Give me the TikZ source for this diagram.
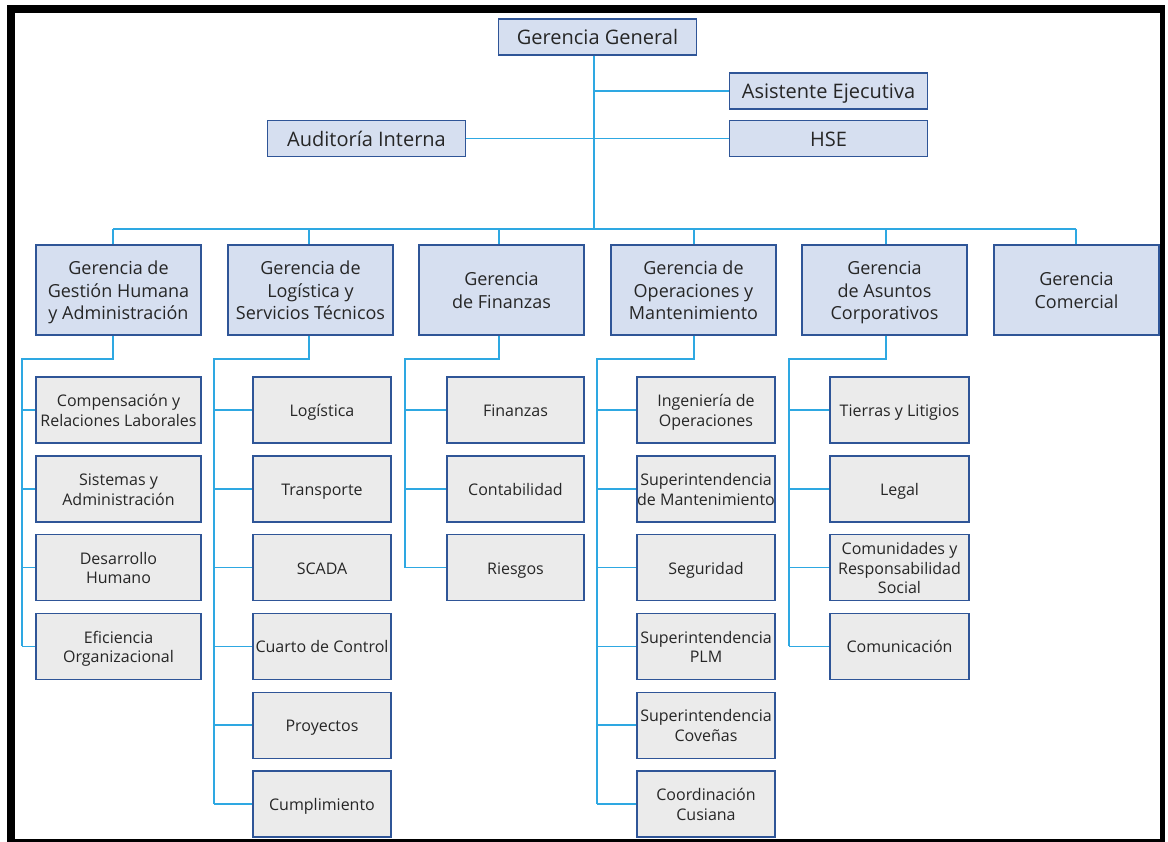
\documentclass[tikz,border=0pt]{standalone}
\usepackage{fontspec}
\setmainfont{Open Sans}
\definecolor{link}{RGB}{46,168,226}
\definecolor{edge}{RGB}{47,85,151}
\definecolor{headfill}{RGB}{214,223,240}
\definecolor{unitfill}{RGB}{235,235,235}
\definecolor{ink}{RGB}{38,38,38}
% one text line whose box is exactly cap-high, so every label sits by its capitals
\newcommand\capl[1]{\raisebox{0pt}[\dimexpr0.714em+1.5pt\relax][0pt]{#1}}
\tikzset{
  box/.style={draw=edge, line width=1.4pt, text=ink, inner sep=0pt, align=center},
  head/.style={box, fill=headfill, minimum width=198pt, minimum height=36pt,
    font=\fontsize{20}{24}\selectfont},
  dept/.style={box, fill=headfill, minimum width=165pt, minimum height=90pt,
    font=\fontsize{18}{22.5}\selectfont},
  unit/.style={box, fill=unitfill, minimum height=66pt,
    font=\fontsize{16}{19.5}\selectfont},
  link/.style={draw=link, line width=1.5pt, line join=miter}
}
\begin{document}
\begin{tikzpicture}[x=1pt,y=-1pt]
\useasboundingbox (0,0) rectangle (1168,842);
% page frame
\fill[white] (0,0) rectangle (1168,842);
\fill[black] (7,5) rectangle (1165,842);
\fill[white] (15,13) rectangle (1160,839);

% top level
\node[head] (gg)  at (597.5,37)    {\capl{Gerencia General}};
\node[head] (ae)  at (828.5,91)    {\capl{Asistente Ejecutiva}};
\node[head] (hse) at (828.5,138.5) {\capl{HSE}};
\node[head] (ai)  at (366.5,138.5) {\capl{Auditoría Interna}};

\coordinate (bus) at (594,229);
\draw[link] (gg.south -| bus) -- (bus);
\draw[link] (bus |- ae.west) -- (ae.west);
\draw[link] (ai.east) -- (hse.west);

% departments
\node[dept] (d1) at (118.5,290)  {\capl{Gerencia de}\\\capl{Gestión Humana}\\\capl{y Administración}};
\node[dept] (d2) at (310.5,290)  {\capl{Gerencia de}\\\capl{Logística y}\\\capl{Servicios Técnicos}};
\node[dept] (d3) at (501.5,290)  {\capl{Gerencia}\\\capl{de Finanzas}};
\node[dept] (d4) at (693.5,290)  {\capl{Gerencia de}\\\capl{Operaciones y}\\\capl{Mantenimiento}};
\node[dept] (d5) at (884.5,290)  {\capl{Gerencia}\\\capl{de Asuntos}\\\capl{Corporativos}};
\node[dept] (d6) at (1076.5,290) {\capl{Gerencia}\\\capl{Comercial}};

\coordinate (t1) at (113,229);
\coordinate (t2) at (309,229);
\coordinate (t3) at (499,229);
\coordinate (t4) at (694,229);
\coordinate (t5) at (886,229);
\coordinate (t6) at (1076,229);
\draw[link] (t1) -- (t6);
\foreach \i in {1,...,6} \draw[link] (t\i) -- (t\i |- d\i.north);

% units
\foreach \t [count=\k] in {{\capl{Compensación y}\\\capl{Relaciones Laborales}},
  {\capl{Sistemas y}\\\capl{Administración}},
  {\capl{Desarrollo}\\\capl{Humano}},{\capl{Eficiencia}\\\capl{Organizacional}}}
  \node[unit, minimum width=165pt] (c1-\k) at (118.5,{410+(\k-1)*78.8}) {\t};
\foreach \t [count=\k] in {Logística,Transporte,SCADA,Cuarto de Control,Proyectos,Cumplimiento}
  \node[unit, minimum width=138pt] (c2-\k) at (322,{410+(\k-1)*78.8}) {\capl{\t}};
\foreach \t [count=\k] in {Finanzas,Contabilidad,Riesgos}
  \node[unit, minimum width=137pt] (c3-\k) at (515.5,{410+(\k-1)*78.8}) {\capl{\t}};
\foreach \t [count=\k] in {{\capl{Ingeniería de}\\\capl{Operaciones}},
  {\capl{Superintendencia}\\\capl{de Mantenimiento}},
  {\capl{Seguridad}},{\capl{Superintendencia}\\\capl{PLM}},
  {\capl{Superintendencia}\\\capl{Coveñas}},{\capl{Coordinación}\\\capl{Cusiana}}}
  \node[unit, minimum width=138pt] (c4-\k) at (706,{410+(\k-1)*78.8}) {\t};
\foreach \t [count=\k] in {{\capl{Tierras y Litigios}},{\capl{Legal}},
  {\capl{Comunidades y}\\\capl{Responsabilidad}\\\capl{Social}},{\capl{Comunicación}}}
  \node[unit, minimum width=139pt] (c5-\k) at (899.5,{410+(\k-1)*78.8}) {\t};

% branch lines under each department
\coordinate (b1) at (113,359);  \coordinate (v1) at (22,359);
\coordinate (b2) at (309,359);  \coordinate (v2) at (214,359);
\coordinate (b3) at (499,359);  \coordinate (v3) at (405,359);
\coordinate (b4) at (694,359);  \coordinate (v4) at (597,359);
\coordinate (b5) at (886,359);  \coordinate (v5) at (789,359);
\foreach \i/\n in {1/4,2/6,3/3,4/6,5/4}{
  \draw[link] (b\i |- d\i.south) -- (b\i) -- (v\i) -- (v\i |- c\i-\n.west);
  \foreach \k in {1,...,\n} \draw[link] (v\i |- c\i-\k.west) -- (c\i-\k.west);
}
\end{tikzpicture}
\end{document}
